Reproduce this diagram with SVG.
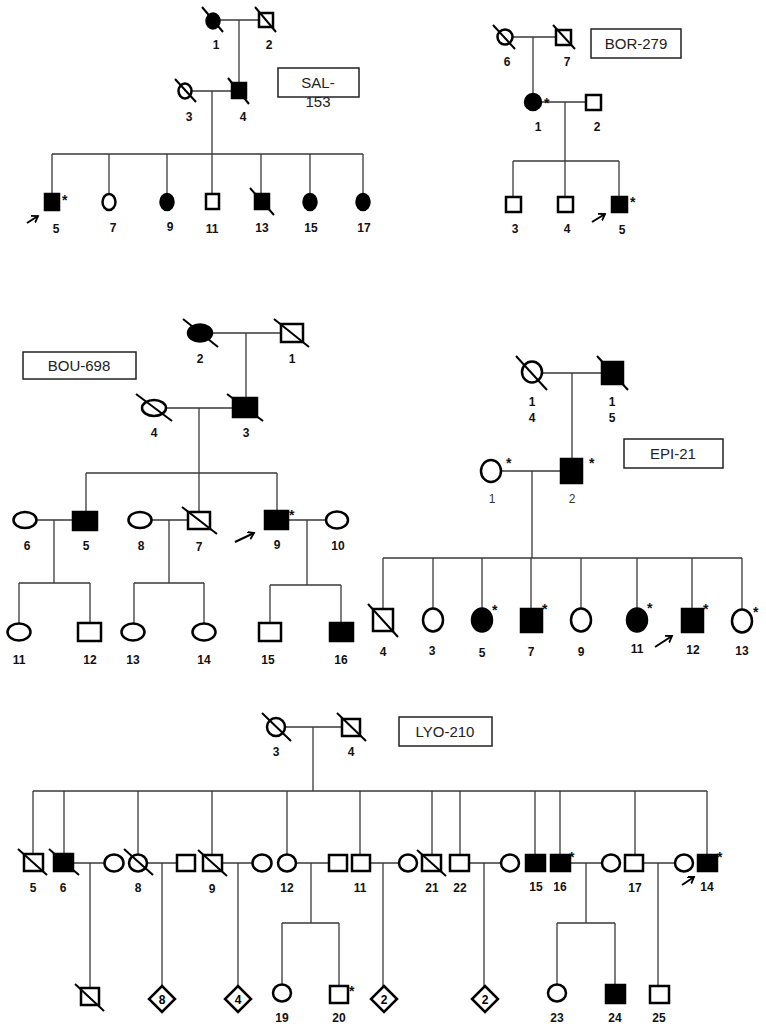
<svg xmlns="http://www.w3.org/2000/svg" width="766" height="1030" viewBox="0 0 766 1030">
<style>
.bg{fill:#fff}
.c{stroke:#3a3a3a;stroke-width:1.3;fill:none}
.o{fill:#fff;stroke:#000;stroke-width:2.5}
.f{fill:#000;stroke:#000;stroke-width:2.5}
.s{stroke:#000;stroke-width:2;fill:none}
.l{font-family:"Liberation Sans",Arial,sans-serif;font-weight:bold;font-size:12px;fill:#111;text-anchor:middle}
.lr{font-family:"Liberation Sans",Arial,sans-serif;font-size:12px;fill:#333;text-anchor:middle}
.a{font-family:"Liberation Sans",Arial,sans-serif;font-weight:bold;font-size:14px;fill:#111}
.bx{fill:#fff;stroke:#222;stroke-width:1.5}
.bt{font-family:"Liberation Sans",Arial,sans-serif;font-size:15px;fill:#222;text-anchor:middle}
.ar{stroke:#000;stroke-width:2;fill:none}
.dt{font-family:"Liberation Sans",Arial,sans-serif;font-weight:bold;font-size:12px;fill:#000;text-anchor:middle}
</style>
<defs>
<marker id="ah" markerWidth="9" markerHeight="9" refX="6" refY="4" orient="auto" markerUnits="userSpaceOnUse"><path d="M0,0 L6,4 L0,8" fill="none" stroke="#000" stroke-width="1.8"/></marker>
</defs>
<rect class="bg" x="0" y="0" width="766" height="1030"/>

<!-- ================= CONNECTORS ================= -->
<g id="connectors">
<!-- SAL-153 -->
<path class="c" d="M220,20 H259 M239,20 V83 M192,91 H232 M212,91 V154 M52,154 H363 M52,154 V194 M109,154 V194 M167,154 V194 M212,154 V194 M261,154 V194 M310,154 V194 M363,154 V194"/>
<!-- BOR-279 -->
<path class="c" d="M513,37 H556 M533,37 V94 M541,102 H586 M565,102 V161 M513,161 H619 M513,161 V197 M565,161 V197 M619,161 V197"/>
<!-- BOU-698 -->
<path class="c" d="M212,333 H281 M246,333 V398 M166,408 H233 M199,408 V473 M86,473 H277 M86,473 V512 M199,473 V512 M277,473 V511 M37,520 H73 M54,520 V583 M19,583 H90 M19,583 V623 M90,583 V623 M151,520 H188 M169,520 V583 M134,583 H204 M134,583 V623 M204,583 V623 M288,520 H326 M307,520 V585 M270,585 H341 M270,585 V623 M341,585 V623"/>
<!-- EPI-21 -->
<path class="c" d="M542,373 H602 M572,373 V459 M502,471 H561 M532,471 V558 M383,558 H742 M383,558 V609 M433,558 V609 M482,558 V609 M531,558 V609 M581,558 V609 M637,558 V609 M692,558 V609 M742,558 V610"/>
<!-- LYO-210 -->
<path class="c" d="M285,727 H342 M313,727 V791 M33,791 H707 M33,791 V854 M64,791 V854 M138,791 V854 M212,791 V854 M287,791 V854 M360,791 V855 M432,791 V855 M460,791 V855 M535,791 V855 M560,791 V855 M635,791 V855 M707,791 V855"/>
<path class="c" d="M73,863 H105 M90,863 V988 M147,863 H177 M162,863 V986 M222,863 H253 M238,863 V986 M296,863 H329 M311,863 V923 M282,923 H339 M282,923 V985 M339,923 V986 M370,863 H399 M383,863 V986 M469,863 H501 M484,863 V986 M570,863 H602 M586,863 V923 M557,923 H615 M557,923 V985 M615,923 V985 M643,863 H675 M658,863 V986"/>
</g>

<!-- ================= SAL-153 ================= -->
<g id="sal-153">
<g id="sal-box"><rect class="bx" x="278" y="68" width="81" height="29"/><text class="bt" x="318" y="88">SAL-</text><text class="bt" x="318" y="107">153</text></g>
<g id="sal-1"><ellipse class="f" cx="213" cy="21" rx="6.5" ry="7.5"/><line class="s" x1="202" y1="7" x2="223" y2="32"/><text class="l" x="216" y="49">1</text></g>
<g id="sal-2"><rect class="o" x="259" y="13" width="14" height="14"/><line class="s" x1="255" y1="7" x2="276" y2="32"/><text class="l" x="269" y="49">2</text></g>
<g id="sal-3"><ellipse class="o" cx="185" cy="91" rx="6.5" ry="7.5"/><line class="s" x1="175" y1="79" x2="196" y2="102"/><text class="l" x="189" y="121">3</text></g>
<g id="sal-4"><rect class="f" x="232" y="83" width="14" height="15"/><line class="s" x1="228" y1="78" x2="249" y2="104"/><text class="l" x="243" y="121">4</text></g>
<g id="sal-5"><rect class="f" x="45" y="194" width="14" height="16"/><text class="a" x="62" y="205">*</text><line class="ar" x1="27" y1="223" x2="38" y2="216" marker-end="url(#ah)"/><text class="l" x="56" y="233">5</text></g>
<g id="sal-7"><ellipse class="o" cx="109" cy="202" rx="6.5" ry="8"/><text class="l" x="113" y="232">7</text></g>
<g id="sal-9"><ellipse class="f" cx="167" cy="202" rx="6.5" ry="8"/><text class="l" x="170" y="231">9</text></g>
<g id="sal-11"><rect class="o" x="206" y="194" width="13" height="15"/><text class="l" x="212" y="233">11</text></g>
<g id="sal-13"><rect class="f" x="255" y="194" width="14" height="15"/><line class="s" x1="250" y1="188" x2="274" y2="215"/><text class="l" x="262" y="232">13</text></g>
<g id="sal-15"><ellipse class="f" cx="310" cy="202" rx="6.5" ry="8"/><text class="l" x="311" y="232">15</text></g>
<g id="sal-17"><ellipse class="f" cx="363" cy="202" rx="6.5" ry="8"/><text class="l" x="364" y="232">17</text></g>
</g>

<!-- ================= BOR-279 ================= -->
<g id="bor-279">
<g id="bor-box"><rect class="bx" x="591" y="29" width="90" height="29"/><text class="bt" x="636" y="49">BOR-279</text></g>
<g id="bor-6"><circle class="o" cx="505" cy="37" r="7.5"/><line class="s" x1="493" y1="25" x2="515" y2="49"/><text class="l" x="507" y="66">6</text></g>
<g id="bor-7"><rect class="o" x="556" y="30" width="15" height="15"/><line class="s" x1="553" y1="25" x2="575" y2="49"/><text class="l" x="567" y="66">7</text></g>
<g id="bor-1"><circle class="f" cx="533" cy="102" r="8"/><text class="a" x="544" y="108">*</text><text class="l" x="538" y="131">1</text></g>
<g id="bor-2"><rect class="o" x="586" y="95" width="15" height="15"/><text class="l" x="597" y="131">2</text></g>
<g id="bor-3"><rect class="o" x="506" y="197" width="15" height="15"/><text class="l" x="515" y="233">3</text></g>
<g id="bor-4"><rect class="o" x="558" y="197" width="15" height="15"/><text class="l" x="567" y="233">4</text></g>
<g id="bor-5"><rect class="f" x="612" y="197" width="15" height="15"/><text class="a" x="630" y="207">*</text><line class="ar" x1="592" y1="222" x2="605" y2="214" marker-end="url(#ah)"/><text class="l" x="622" y="234">5</text></g>
</g>

<!-- ================= BOU-698 ================= -->
<g id="bou-698">
<g id="bou-box"><rect class="bx" x="23" y="352" width="113" height="27"/><text class="bt" x="79" y="371">BOU-698</text></g>
<g id="bou-2"><ellipse class="f" cx="200" cy="333" rx="12" ry="8.5"/><line class="s" x1="183" y1="319" x2="218" y2="347"/><text class="l" x="200" y="363">2</text></g>
<g id="bou-1"><rect class="o" x="281" y="324" width="22" height="18"/><line class="s" x1="274" y1="319" x2="309" y2="347"/><text class="l" x="292" y="363">1</text></g>
<g id="bou-4"><ellipse class="o" cx="154" cy="408" rx="12" ry="8"/><line class="s" x1="136" y1="394" x2="172" y2="421"/><text class="l" x="154" y="437">4</text></g>
<g id="bou-3"><rect class="f" x="233" y="398" width="24" height="19"/><line class="s" x1="227" y1="394" x2="263" y2="421"/><text class="l" x="246" y="437">3</text></g>
<g id="bou-6"><ellipse class="o" cx="25" cy="520" rx="11.5" ry="8"/><text class="l" x="27" y="550">6</text></g>
<g id="bou-5"><rect class="f" x="73" y="512" width="24" height="18"/><text class="l" x="86" y="550">5</text></g>
<g id="bou-8"><ellipse class="o" cx="140" cy="520" rx="11.5" ry="8"/><text class="l" x="141" y="550">8</text></g>
<g id="bou-7"><rect class="o" x="188" y="512" width="22" height="17"/><line class="s" x1="182" y1="507" x2="217" y2="534"/><text class="l" x="199" y="551">7</text></g>
<g id="bou-9"><rect class="f" x="265" y="511" width="23" height="18"/><text class="a" x="289" y="520">*</text><line class="ar" x1="235" y1="542" x2="254" y2="533" marker-end="url(#ah)"/><text class="l" x="277" y="549">9</text></g>
<g id="bou-10"><ellipse class="o" cx="337" cy="520" rx="11" ry="8.5"/><text class="l" x="338" y="550">10</text></g>
<g id="bou-11"><ellipse class="o" cx="19" cy="632" rx="11.5" ry="8.5"/><text class="l" x="19" y="664">11</text></g>
<g id="bou-12"><rect class="o" x="78" y="623" width="23" height="18"/><text class="l" x="90" y="664">12</text></g>
<g id="bou-13"><ellipse class="o" cx="133" cy="632" rx="11.5" ry="8.5"/><text class="l" x="133" y="664">13</text></g>
<g id="bou-14"><ellipse class="o" cx="204" cy="632" rx="11.5" ry="8.5"/><text class="l" x="204" y="664">14</text></g>
<g id="bou-15"><rect class="o" x="259" y="623" width="22" height="18"/><text class="l" x="268" y="664">15</text></g>
<g id="bou-16"><rect class="f" x="330" y="623" width="23" height="18"/><text class="l" x="341" y="664">16</text></g>
</g>

<!-- ================= EPI-21 ================= -->
<g id="epi-21">
<g id="epi-box"><rect class="bx" x="624" y="439" width="99" height="29"/><text class="bt" x="673" y="459">EPI-21</text></g>
<g id="epi-14"><ellipse class="o" cx="532" cy="372" rx="10" ry="10.5"/><line class="s" x1="516" y1="356" x2="547" y2="390"/><text class="l" x="532" y="406">1</text><text class="l" x="532" y="422">4</text></g>
<g id="epi-15"><rect class="f" x="602" y="362" width="21" height="22"/><line class="s" x1="597" y1="356" x2="628" y2="390"/><text class="l" x="612" y="406">1</text><text class="l" x="612" y="422">5</text></g>
<g id="epi-1"><ellipse class="o" cx="491" cy="471" rx="10" ry="11"/><text class="a" x="506" y="468">*</text><text class="lr" x="492" y="503">1</text></g>
<g id="epi-2"><rect class="f" x="561" y="459" width="21" height="24"/><text class="a" x="589" y="468">*</text><text class="lr" x="572" y="503">2</text></g>
<g id="epi-4"><rect class="o" x="373" y="609" width="20" height="22"/><line class="s" x1="368" y1="604" x2="398" y2="637"/><text class="l" x="383" y="656">4</text></g>
<g id="epi-3"><ellipse class="o" cx="433" cy="620" rx="10" ry="11.5"/><text class="l" x="432" y="655">3</text></g>
<g id="epi-5"><ellipse class="f" cx="482" cy="620" rx="10" ry="11.5"/><text class="a" x="492" y="615">*</text><text class="l" x="482" y="657">5</text></g>
<g id="epi-7"><rect class="f" x="521" y="609" width="21" height="23"/><text class="a" x="542" y="614">*</text><text class="l" x="531" y="656">7</text></g>
<g id="epi-9"><ellipse class="o" cx="581" cy="620" rx="10" ry="11.5"/><text class="l" x="581" y="656">9</text></g>
<g id="epi-11"><ellipse class="f" cx="637" cy="620" rx="10" ry="11.5"/><text class="a" x="647" y="613">*</text><text class="l" x="637" y="653">11</text></g>
<g id="epi-12"><rect class="f" x="682" y="609" width="21" height="23"/><text class="a" x="703" y="614">*</text><line class="ar" x1="655" y1="647" x2="672" y2="636" marker-end="url(#ah)"/><text class="l" x="693" y="654">12</text></g>
<g id="epi-13"><ellipse class="o" cx="742" cy="621" rx="10" ry="11.5"/><text class="a" x="753" y="617">*</text><text class="l" x="742" y="655">13</text></g>
</g>

<!-- ================= LYO-210 ================= -->
<g id="lyo-210">
<g id="lyo-box"><rect class="bx" x="399" y="717" width="93" height="29"/><text class="bt" x="445" y="737">LYO-210</text></g>
<g id="lyo-3"><circle class="o" cx="276" cy="727" r="9"/><line class="s" x1="262" y1="713" x2="291" y2="741"/><text class="l" x="276" y="756">3</text></g>
<g id="lyo-4"><rect class="o" x="342" y="719" width="18" height="17"/><line class="s" x1="337" y1="713" x2="366" y2="741"/><text class="l" x="351" y="756">4</text></g>
<g id="lyo-5"><rect class="o" x="24" y="854" width="19" height="17"/><line class="s" x1="18" y1="849" x2="47" y2="875"/><text class="l" x="33" y="892">5</text></g>
<g id="lyo-6"><rect class="f" x="54" y="854" width="19" height="17"/><line class="s" x1="49" y1="849" x2="79" y2="875"/><text class="l" x="63" y="892">6</text></g>
<g id="lyo-6w"><ellipse class="o" cx="114" cy="863" rx="9.5" ry="8.5"/></g>
<g id="lyo-8"><ellipse class="o" cx="138" cy="863" rx="9" ry="8.5"/><line class="s" x1="124" y1="849" x2="153" y2="875"/><text class="l" x="138" y="892">8</text></g>
<g id="lyo-8h"><rect class="o" x="177" y="855" width="18" height="16"/></g>
<g id="lyo-9"><rect class="o" x="203" y="855" width="19" height="16"/><line class="s" x1="198" y1="850" x2="227" y2="876"/><text class="l" x="212" y="893">9</text></g>
<g id="lyo-9w"><ellipse class="o" cx="262" cy="863" rx="9.5" ry="8.5"/></g>
<g id="lyo-12"><ellipse class="o" cx="287" cy="863" rx="9" ry="8.5"/><text class="l" x="287" y="892">12</text></g>
<g id="lyo-12h"><rect class="o" x="329" y="855" width="18" height="16"/></g>
<g id="lyo-11"><rect class="o" x="352" y="855" width="18" height="16"/><text class="l" x="360" y="892">11</text></g>
<g id="lyo-11w"><ellipse class="o" cx="408" cy="863" rx="9" ry="8.5"/></g>
<g id="lyo-21"><rect class="o" x="422" y="855" width="19" height="16"/><line class="s" x1="417" y1="850" x2="446" y2="876"/><text class="l" x="432" y="892">21</text></g>
<g id="lyo-22"><rect class="o" x="450" y="855" width="19" height="16"/><text class="l" x="460" y="892">22</text></g>
<g id="lyo-22w"><ellipse class="o" cx="510" cy="863" rx="9" ry="8.5"/></g>
<g id="lyo-15"><rect class="f" x="526" y="855" width="19" height="16"/><text class="l" x="536" y="891">15</text></g>
<g id="lyo-16"><rect class="f" x="551" y="855" width="19" height="16"/><text class="a" x="569" y="862">*</text><text class="l" x="560" y="891">16</text></g>
<g id="lyo-16w"><ellipse class="o" cx="611" cy="863" rx="9" ry="8.5"/></g>
<g id="lyo-17"><rect class="o" x="625" y="855" width="18" height="16"/><text class="l" x="635" y="892">17</text></g>
<g id="lyo-17w"><ellipse class="o" cx="684" cy="863" rx="9" ry="8.5"/></g>
<g id="lyo-14"><rect class="f" x="698" y="855" width="19" height="16"/><text class="a" x="717" y="862">*</text><line class="ar" x1="682" y1="885" x2="694" y2="877" marker-end="url(#ah)"/><text class="l" x="707" y="891">14</text></g>
<g id="lyo-6c"><rect class="o" x="81" y="988" width="18" height="17"/><line class="s" x1="75" y1="984" x2="104" y2="1011"/></g>
<g id="lyo-8c"><path class="o" d="M162,986 L175,999 L162,1012 L149,999 Z"/><text class="dt" x="162" y="1003.5">8</text></g>
<g id="lyo-9c"><path class="o" d="M238,986 L251,999 L238,1012 L225,999 Z"/><text class="dt" x="238" y="1003.5">4</text></g>
<g id="lyo-19"><ellipse class="o" cx="282" cy="993" rx="9" ry="8.5"/><text class="l" x="282" y="1022">19</text></g>
<g id="lyo-20"><rect class="o" x="330" y="986" width="18" height="17"/><text class="a" x="349" y="996">*</text><text class="l" x="339" y="1022">20</text></g>
<g id="lyo-11c"><path class="o" d="M384,986 L397,999 L384,1012 L371,999 Z"/><text class="dt" x="384" y="1003.5">2</text></g>
<g id="lyo-22c"><path class="o" d="M485,986 L498,999 L485,1012 L472,999 Z"/><text class="dt" x="485" y="1003.5">2</text></g>
<g id="lyo-23"><ellipse class="o" cx="557" cy="993" rx="9" ry="8.5"/><text class="l" x="557" y="1022">23</text></g>
<g id="lyo-24"><rect class="f" x="606" y="985" width="19" height="18"/><text class="l" x="615" y="1022">24</text></g>
<g id="lyo-25"><rect class="o" x="650" y="986" width="19" height="17"/><text class="l" x="659" y="1022">25</text></g>
</g>
</svg>
